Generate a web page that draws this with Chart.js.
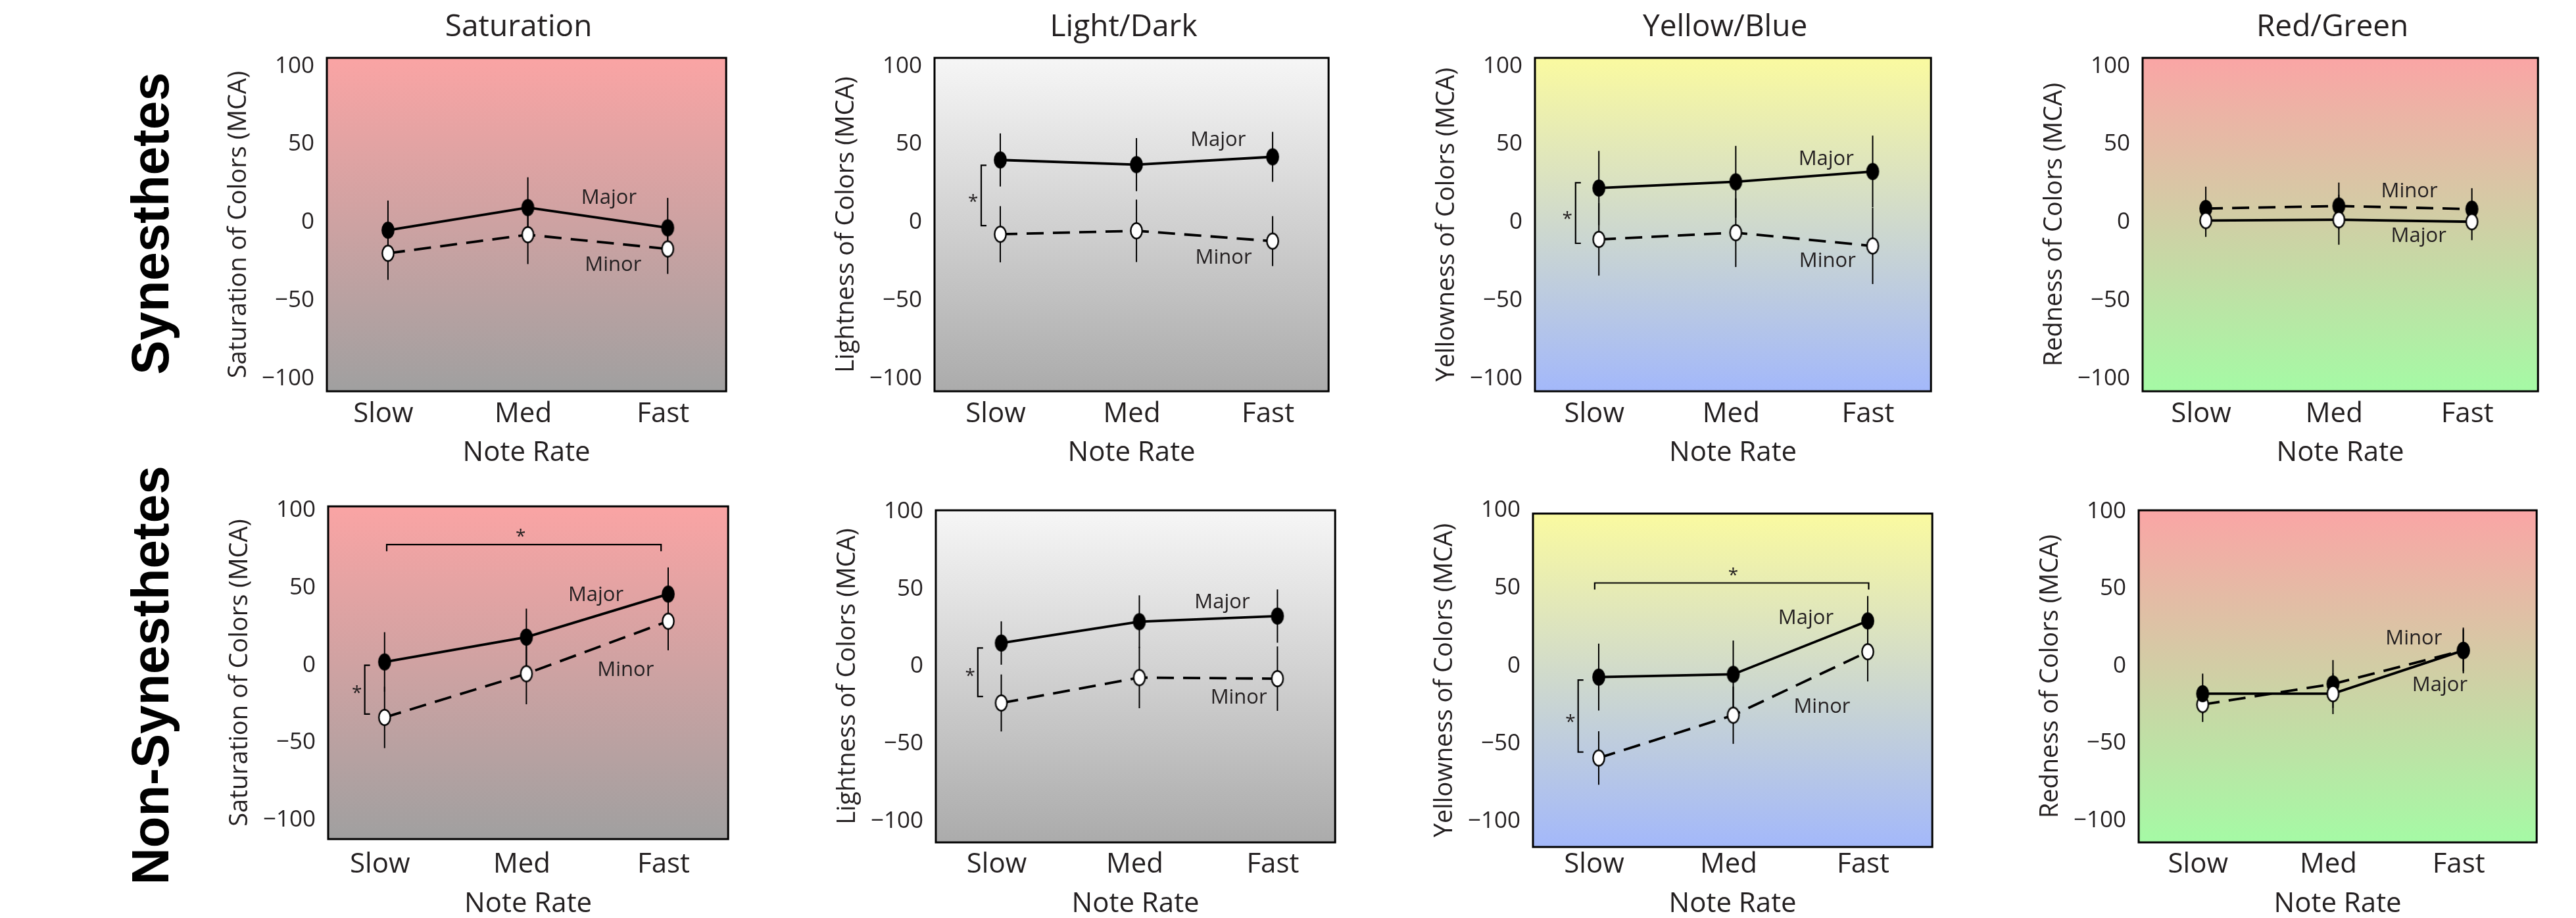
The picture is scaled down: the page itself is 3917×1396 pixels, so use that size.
<!DOCTYPE html>
<html>
<head>
<meta charset="utf-8">
<script src="https://cdn.jsdelivr.net/npm/chart.js@4.4.1/dist/chart.umd.min.js"></script>
<style>
  html, body { margin: 0; padding: 0; background: #fff; }
  body { width: 3917px; height: 1396px; position: relative; overflow: hidden; }
  canvas { position: absolute; }
  .group {
    position: absolute;
    font-family: "Liberation Sans", Arial, sans-serif;
    font-weight: bold;
    font-size: 80px;
    line-height: 80px;
    color: #000;
    white-space: nowrap;
    transform: translate(-50%, -50%) rotate(-90deg) scaleX(0.975);
  }
</style>
</head>
<body>
<script>
// ── LABELS ────────────────────────────────────────────────────
const rateLabels  = ['Slow', 'Med', 'Fast'];
const yTickValues = [-100, -50, 0, 50, 100];
const panelTitles = ['Saturation', 'Light/Dark', 'Yellow/Blue', 'Red/Green'];
const yAxisTitles = ['Saturation of Colors (MCA)', 'Lightness of Colors (MCA)',
                     'Yellowness of Colors (MCA)', 'Redness of Colors (MCA)'];
const groupLabels = ['Synesthetes', 'Non-Synesthetes'];

// ── SYNESTHETES (mean, error) ─────────────────────────────────
const synSatMajor       = [-5.0, 9.5, -3.5];
const synSatMajorErr    = [19.0, 19.4, 19.2];
const synSatMinor       = [-19.8, -7.9, -17.0];
const synSatMinorErr    = [17.0, 18.8, 16.0];
const synLightMajor     = [40.0, 37.0, 42.0];
const synLightMajorErr  = [17.0, 17.0, 16.0];
const synLightMinor     = [-7.6, -5.4, -12.0];
const synLightMinorErr  = [18.0, 20.0, 16.0];
const synYellowMajor    = [22.0, 26.0, 32.6];
const synYellowMajorErr = [23.8, 23.0, 23.0];
const synYellowMinor    = [-10.9, -6.6, -15.1];
const synYellowMinorErr = [23.2, 22.0, 24.4];
const synRedMajor       = [1.2, 1.7, 0.4];
const synRedMajorErr    = [10.5, 16.0, 11.8];
const synRedMinor       = [8.9, 10.5, 8.5];
const synRedMinorErr    = [14.0, 15.0, 13.4];

// ── NON-SYNESTHETES (mean, error) ─────────────────────────────
const nonSatMajor       = [2.1, 18.1, 45.9];
const nonSatMajorErr    = [19.2, 18.4, 17.2];
const nonSatMinor       = [-33.7, -5.5, 28.4];
const nonSatMinorErr    = [19.8, 19.7, 18.8];
const nonLightMajor     = [15.1, 28.9, 32.5];
const nonLightMajorErr  = [14.0, 17.0, 17.2];
const nonLightMinor     = [-23.6, -7.2, -7.9];
const nonLightMinorErr  = [18.4, 19.8, 20.8];
const nonYellowMajor    = [-7.2, -5.4, 28.9];
const nonYellowMajorErr = [21.5, 21.7, 16.0];
const nonYellowMinor    = [-59.2, -31.7, 9.1];
const nonYellowMinorErr = [17.2, 18.4, 19.1];
const nonRedMajor       = [-17.9, -17.9, 10.1];
const nonRedMajorErr    = [13.0, 13.2, 14.8];
const nonRedMinor       = [-24.9, -11.6, 10.1];
const nonRedMinorErr    = [11.3, 15.5, 13.6];

// ── LOOK ──────────────────────────────────────────────────────
const FONT = '"Open Sans", "Noto Sans", sans-serif';
const INK = '#231f20';
const GRADIENTS = [
  ['#faa4a4', '#a0a0a0'],
  ['#f6f6f6', '#ababab'],
  ['#fafaa0', '#a3b8fa'],
  ['#faa5a5', '#a5faa5'],
];
// page y of the tick-label row and "Note Rate" row, per figure row
const TICK_ROW_Y  = [630, 1315];
const TITLE_ROW_Y = [689, 1375];

// plot box [left, top, right, bottom] in page px, axis ranges
const panels = [
  { row: 0, col: 0, rect: [497, 88, 1108, 595],   x: [-0.437, 2.418], y: [-108.2, 105.4],
    major: synSatMajor, majorErr: synSatMajorErr, minor: synSatMinor, minorErr: synSatMinorErr,
    majorFill: [1, 1, 1], minorFill: [0, 0, 0],
    notes: [['Major', 1.58, 15.5], ['Minor', 1.61, -27.3]], brackets: [] },
  { row: 0, col: 1, rect: [1421, 88, 2024, 595],  x: [-0.483, 2.411], y: [-108.2, 105.4],
    major: synLightMajor, majorErr: synLightMajorErr, minor: synLightMinor, minorErr: synLightMinorErr,
    majorFill: [1, 1, 1], minorFill: [0, 0, 0],
    notes: [['Major', 1.6, 52.7], ['Minor', 1.64, -22.9]],
    brackets: [{ side: true, at: -0.14, from: 36.6, to: -2.1, sx: -0.2, sy: 15.3 }] },
  { row: 0, col: 2, rect: [2334, 88, 2940, 595],  x: [-0.467, 2.426], y: [-108.2, 105.4],
    major: synYellowMajor, majorErr: synYellowMajorErr, minor: synYellowMinor, minorErr: synYellowMinorErr,
    majorFill: [1, 1, 1], minorFill: [0, 0, 0],
    notes: [['Major', 1.66, 40.5], ['Minor', 1.67, -24.8]],
    brackets: [{ side: true, at: -0.17, from: 25.4, to: -13.4, sx: -0.23, sy: 4.3 }] },
  { row: 0, col: 3, rect: [3258, 88, 3863, 595],  x: [-0.475, 2.497], y: [-108.2, 105.4],
    major: synRedMajor, majorErr: synRedMajorErr, minor: synRedMinor, minorErr: synRedMinorErr,
    majorFill: [0, 0, 0], minorFill: [1, 1, 1],
    notes: [['Minor', 1.53, 19.8], ['Major', 1.6, -8.9]], brackets: [] },
  { row: 1, col: 0, rect: [499, 770, 1111, 1276], x: [-0.398, 2.423], y: [-112.2, 102.5],
    major: nonSatMajor, majorErr: nonSatMajorErr, minor: nonSatMinor, minorErr: nonSatMinorErr,
    majorFill: [1, 1, 1], minorFill: [0, 0, 0],
    notes: [['Major', 1.49, 45.0], ['Minor', 1.7, -3.2]],
    brackets: [{ side: true, at: -0.14, from: 0, to: -31.5, sx: -0.195, sy: -15.8 },
               { side: false, at: 77.8, from: 0.015, to: 1.95, sx: 0.96, sy: 85.3 }] },
  { row: 1, col: 1, rect: [1423, 776, 2034, 1281], x: [-0.474, 2.418], y: [-113.6, 100.8],
    major: nonLightMajor, majorErr: nonLightMajorErr, minor: nonLightMinor, minorErr: nonLightMinorErr,
    majorFill: [1, 1, 1], minorFill: [0, 0, 0],
    notes: [['Major', 1.6, 41.1], ['Minor', 1.72, -20.2]],
    brackets: [{ side: true, at: -0.17, from: 11.9, to: -19.4, sx: -0.225, sy: -4.2 }] },
  { row: 1, col: 2, rect: [2331, 781, 2942, 1288], x: [-0.489, 2.48],  y: [-116.4, 97.9],
    major: nonYellowMajor, majorErr: nonYellowMajorErr, minor: nonYellowMinor, minorErr: nonYellowMinorErr,
    majorFill: [1, 1, 1], minorFill: [0, 0, 0],
    notes: [['Major', 1.54, 30.8], ['Minor', 1.66, -26.6]],
    brackets: [{ side: true, at: -0.153, from: -9.1, to: -55.4, sx: -0.21, sy: -34.1 },
               { side: false, at: 53.3, from: -0.03, to: 2.007, sx: 1.0, sy: 60.3 }] },
  { row: 1, col: 3, rect: [3252, 776, 3861, 1281], x: [-0.491, 2.563], y: [-114.2, 100.9],
    major: nonRedMajor, majorErr: nonRedMajorErr, minor: nonRedMinor, minorErr: nonRedMinorErr,
    majorFill: [1, 0, 1], minorFill: [0, 1, 0],
    notes: [['Minor', 1.62, 17.7], ['Major', 1.82, -12.6]], brackets: [] },
];

// ── MARKERS (slightly tall ellipses) ──────────────────────────
function ellipseDot(filled) {
  const c = document.createElement('canvas');
  c.width = 24; c.height = 30;
  const g = c.getContext('2d');
  g.beginPath();
  g.ellipse(12, 15, 8.7, 11.7, 0, 0, Math.PI * 2);
  g.fillStyle = filled ? '#000' : '#fff';
  g.fill();
  g.lineWidth = 2.4;
  g.strokeStyle = '#000';
  g.stroke();
  return c;
}
const DOT_FILLED = ellipseDot(true);
const DOT_OPEN = ellipseDot(false);

// ── PANEL DECORATION PLUGIN ───────────────────────────────────
function decor(p) {
  return {
    id: 'decor',
    beforeDraw(chart) {
      const { ctx, chartArea: a } = chart;
      const g = ctx.createLinearGradient(0, a.top, 0, a.bottom);
      g.addColorStop(0, GRADIENTS[p.col][0]);
      g.addColorStop(1, GRADIENTS[p.col][1]);
      ctx.save();
      ctx.fillStyle = g;
      ctx.fillRect(a.left, a.top, a.right - a.left, a.bottom - a.top);
      ctx.restore();
    },
    beforeDatasetsDraw(chart) {
      // error bars
      const { ctx, scales: { x, y } } = chart;
      ctx.save();
      ctx.strokeStyle = '#000';
      ctx.lineWidth = 2;
      chart.data.datasets.forEach(ds => ds.data.forEach((pt, i) => {
        const px = x.getPixelForValue(pt.x);
        ctx.beginPath();
        ctx.moveTo(px, y.getPixelForValue(pt.y + ds.errors[i]));
        ctx.lineTo(px, y.getPixelForValue(pt.y - ds.errors[i]));
        ctx.stroke();
      }));
      ctx.restore();
    },
    afterDatasetsDraw(chart) {
      const { ctx, scales: { x, y } } = chart;
      ctx.save();
      ctx.fillStyle = INK;
      ctx.textAlign = 'center';
      ctx.textBaseline = 'middle';
      ctx.font = `31px ${FONT}`;
      p.notes.forEach(([t, nx, ny]) => ctx.fillText(t, x.getPixelForValue(nx), y.getPixelForValue(ny)));

      // significance brackets
      ctx.strokeStyle = '#000';
      ctx.lineWidth = 2.2;
      ctx.font = `28px ${FONT}`;
      p.brackets.forEach(b => {
        ctx.beginPath();
        if (b.side) {
          const bx = x.getPixelForValue(b.at);
          const y1 = y.getPixelForValue(b.from), y2 = y.getPixelForValue(b.to);
          ctx.moveTo(bx + 8, y1); ctx.lineTo(bx, y1); ctx.lineTo(bx, y2); ctx.lineTo(bx + 8, y2);
        } else {
          const by = y.getPixelForValue(b.at);
          const x1 = x.getPixelForValue(b.from), x2 = x.getPixelForValue(b.to);
          ctx.moveTo(x1, by + 10); ctx.lineTo(x1, by); ctx.lineTo(x2, by); ctx.lineTo(x2, by + 10);
        }
        ctx.stroke();
        ctx.fillText('*', x.getPixelForValue(b.sx), y.getPixelForValue(b.sy) + 6);
      });
      ctx.restore();
    },
    afterDraw(chart) {
      const { ctx, chartArea: a } = chart;
      ctx.save();
      ctx.strokeStyle = '#000';
      ctx.lineWidth = 3;
      ctx.strokeRect(a.left, a.top, a.right - a.left, a.bottom - a.top);
      if (p.row === 0) {
        ctx.fillStyle = INK;
        ctx.textAlign = 'center';
        ctx.textBaseline = 'middle';
        ctx.font = `46px ${FONT}`;
        ctx.fillText(panelTitles[p.col], (a.left + a.right) / 2 - 12, a.top - 46);
      }
      ctx.restore();
    },
  };
}

const toPoints = vals => vals.map((v, i) => ({ x: i, y: v }));

function buildPanel(p) {
  const [L, T, R, B] = p.rect;
  const X_AXIS_H = 120;
  const canvas = document.createElement('canvas');
  canvas.width = R - L + 210;
  canvas.height = B - T + 100 + X_AXIS_H;
  canvas.style.left = (L - 200) + 'px';
  canvas.style.top = (T - 100) + 'px';
  document.body.appendChild(canvas);

  const series = (label, vals, errs, fills, dash) => ({
    label,
    data: toPoints(vals),
    errors: errs,
    borderColor: '#000',
    borderWidth: 3.8,
    borderDash: dash,
    fill: false,
    tension: 0,
    pointStyle: fills.map(f => f ? DOT_FILLED : DOT_OPEN),
    pointRadius: 10,
  });

  new Chart(canvas, {
    type: 'line',
    data: {
      datasets: [
        series('Major', p.major, p.majorErr, p.majorFill, []),
        series('Minor', p.minor, p.minorErr, p.minorFill, [26, 14]),
      ],
    },
    options: {
      responsive: false,
      animation: false,
      devicePixelRatio: 1,
      layout: { padding: { left: 0, right: 10, top: 100, bottom: 0 } },
      plugins: { legend: { display: false }, tooltip: { enabled: false } },
      scales: {
        x: {
          type: 'linear',
          min: p.x[0], max: p.x[1],
          afterBuildTicks: s => { s.ticks = rateLabels.map((_, i) => ({ value: i })); },
          afterFit: s => { s.height = X_AXIS_H; },
          grid: { display: false, drawTicks: false },
          border: { display: false },
          ticks: {
            callback: v => rateLabels[v],
            font: { family: FONT, size: 42, lineHeight: 1 },
            color: INK,
            padding: TICK_ROW_Y[p.row] - B - 21,
            labelOffset: -7,
            maxRotation: 0,
            autoSkip: false,
          },
          title: {
            display: true, text: 'Note Rate', color: INK,
            font: { family: FONT, size: 42, lineHeight: 1 },
            padding: { top: 0, bottom: Math.max(0, B + X_AXIS_H - TITLE_ROW_Y[p.row] - 21) },
          },
        },
        y: {
          min: p.y[0], max: p.y[1],
          afterBuildTicks: s => { s.ticks = yTickValues.map(v => ({ value: v })); },
          afterFit: s => { s.width = 200; },
          grid: { display: false, drawTicks: false },
          border: { display: false },
          ticks: {
            callback: v => v < 0 ? '\u2212' + Math.abs(v) : String(v),
            font: { family: FONT, size: 35, lineHeight: 1 },
            color: INK,
            padding: 19,
          },
          title: {
            display: true, text: yAxisTitles[p.col], color: INK,
            font: { family: FONT, size: 38, lineHeight: 1.2 },
            padding: { top: 43, bottom: 0 },
          },
        },
      },
    },
    plugins: [decor(p)],
  });
}

panels.forEach(buildPanel);

// ── ROW LABELS ────────────────────────────────────────────────
[[groupLabels[0], 229, 340], [groupLabels[1], 229, 1027]].forEach(([t, cx, cy]) => {
  const d = document.createElement('div');
  d.className = 'group';
  d.textContent = t;
  d.style.left = cx + 'px';
  d.style.top = cy + 'px';
  document.body.appendChild(d);
});
</script>
</body>
</html>
